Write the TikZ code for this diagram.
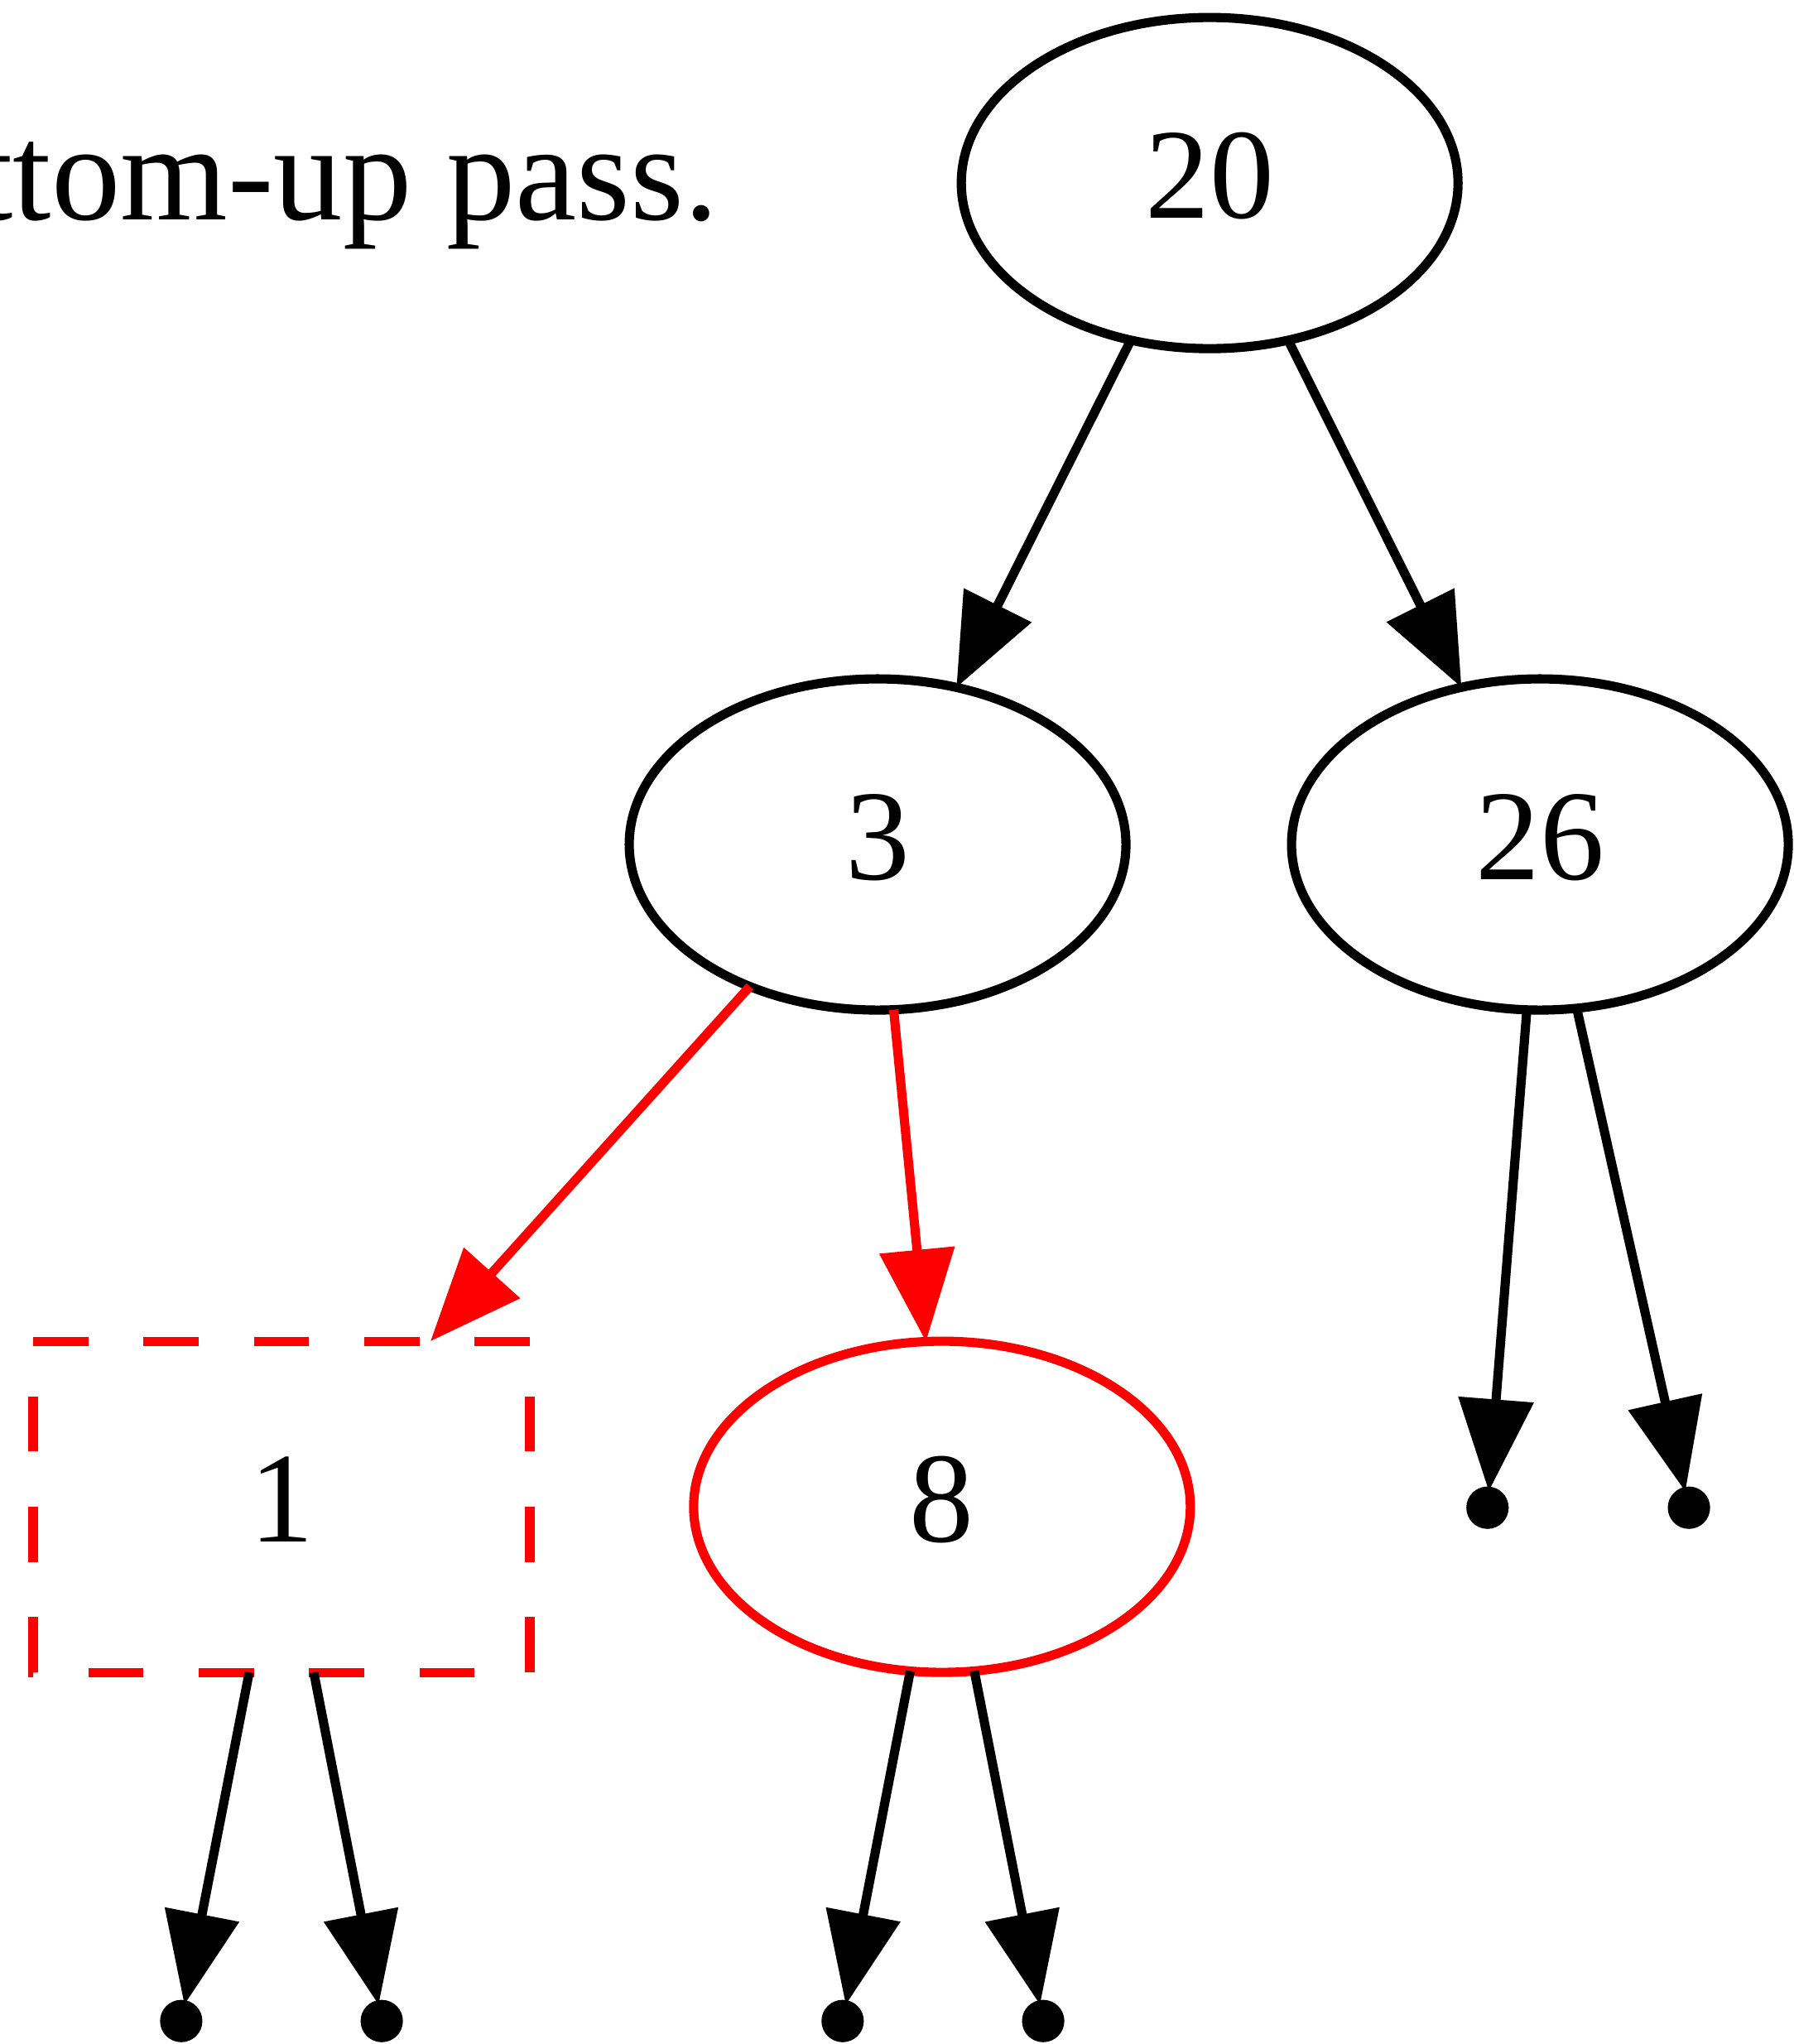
\documentclass[tikz,border=0pt]{standalone}
\usepackage{fontspec}
\setmainfont{Liberation Serif}
\usetikzlibrary{arrows.meta,shapes.geometric}
\begin{document}
\begin{tikzpicture}[x=1pt,y=-1pt,
  every node/.style={font=\fontsize{14pt}{16pt}\selectfont, inner sep=0pt, outer sep=0pt},
  numtext/.style={text height=9.5pt, text depth=1.8pt},
  ell/.style={ellipse, draw, line width=1pt, minimum width=54pt, minimum height=36pt, numtext},
  redell/.style={ell, draw=red},
  boxnode/.style={rectangle, minimum width=54pt, minimum height=36pt, numtext},
  leaf/.style={circle, draw, fill, line width=1pt, minimum size=3.6pt},
  edge/.style={line width=1pt, -{Triangle[length=10pt,width=8pt]}},
  redge/.style={edge, draw=red, fill=red}
]
\useasboundingbox (0,0) rectangle (194.96,222.2);
\node[anchor=base east, font=\fontsize{15pt}{17pt}\selectfont] (title) at (78.1,23.9) {ttom-up pass.};
\node[ell] (n20) at (131.5,19.9) {20};
\node[ell] (n3) at (95.4,91.8) {3};
\node[ell] (n26) at (167.4,91.8) {26};
\node[boxnode] (n1) at (30.6,163.8) {1};
\node[redell] (n8) at (102.4,163.8) {8};
\draw[red, line width=1pt, dash pattern=on 6pt off 6pt] (n1.north east) -- (n1.north west) -- (n1.south west) -- (n1.south east) -- cycle;
\node[leaf] (p1) at (19.7,219.7) {};
\node[leaf] (p2) at (41.5,219.7) {};
\node[leaf] (p3) at (91.6,219.7) {};
\node[leaf] (p4) at (113.4,219.7) {};
\node[leaf] (p5) at (161.7,163.9) {};
\node[leaf] (p6) at (183.6,163.9) {};
\draw[edge] (n20) -- (n3);
\draw[edge] (n20) -- (n26);
\draw[redge] (n3) -- (n1);
\draw[redge] (n3) -- (n8);
\draw[edge] (n26) -- (p5);
\draw[edge] (n26) -- (p6);
\draw[edge] (n1) -- (p1);
\draw[edge] (n1) -- (p2);
\draw[edge] (n8) -- (p3);
\draw[edge] (n8) -- (p4);
\end{tikzpicture}
\end{document}
